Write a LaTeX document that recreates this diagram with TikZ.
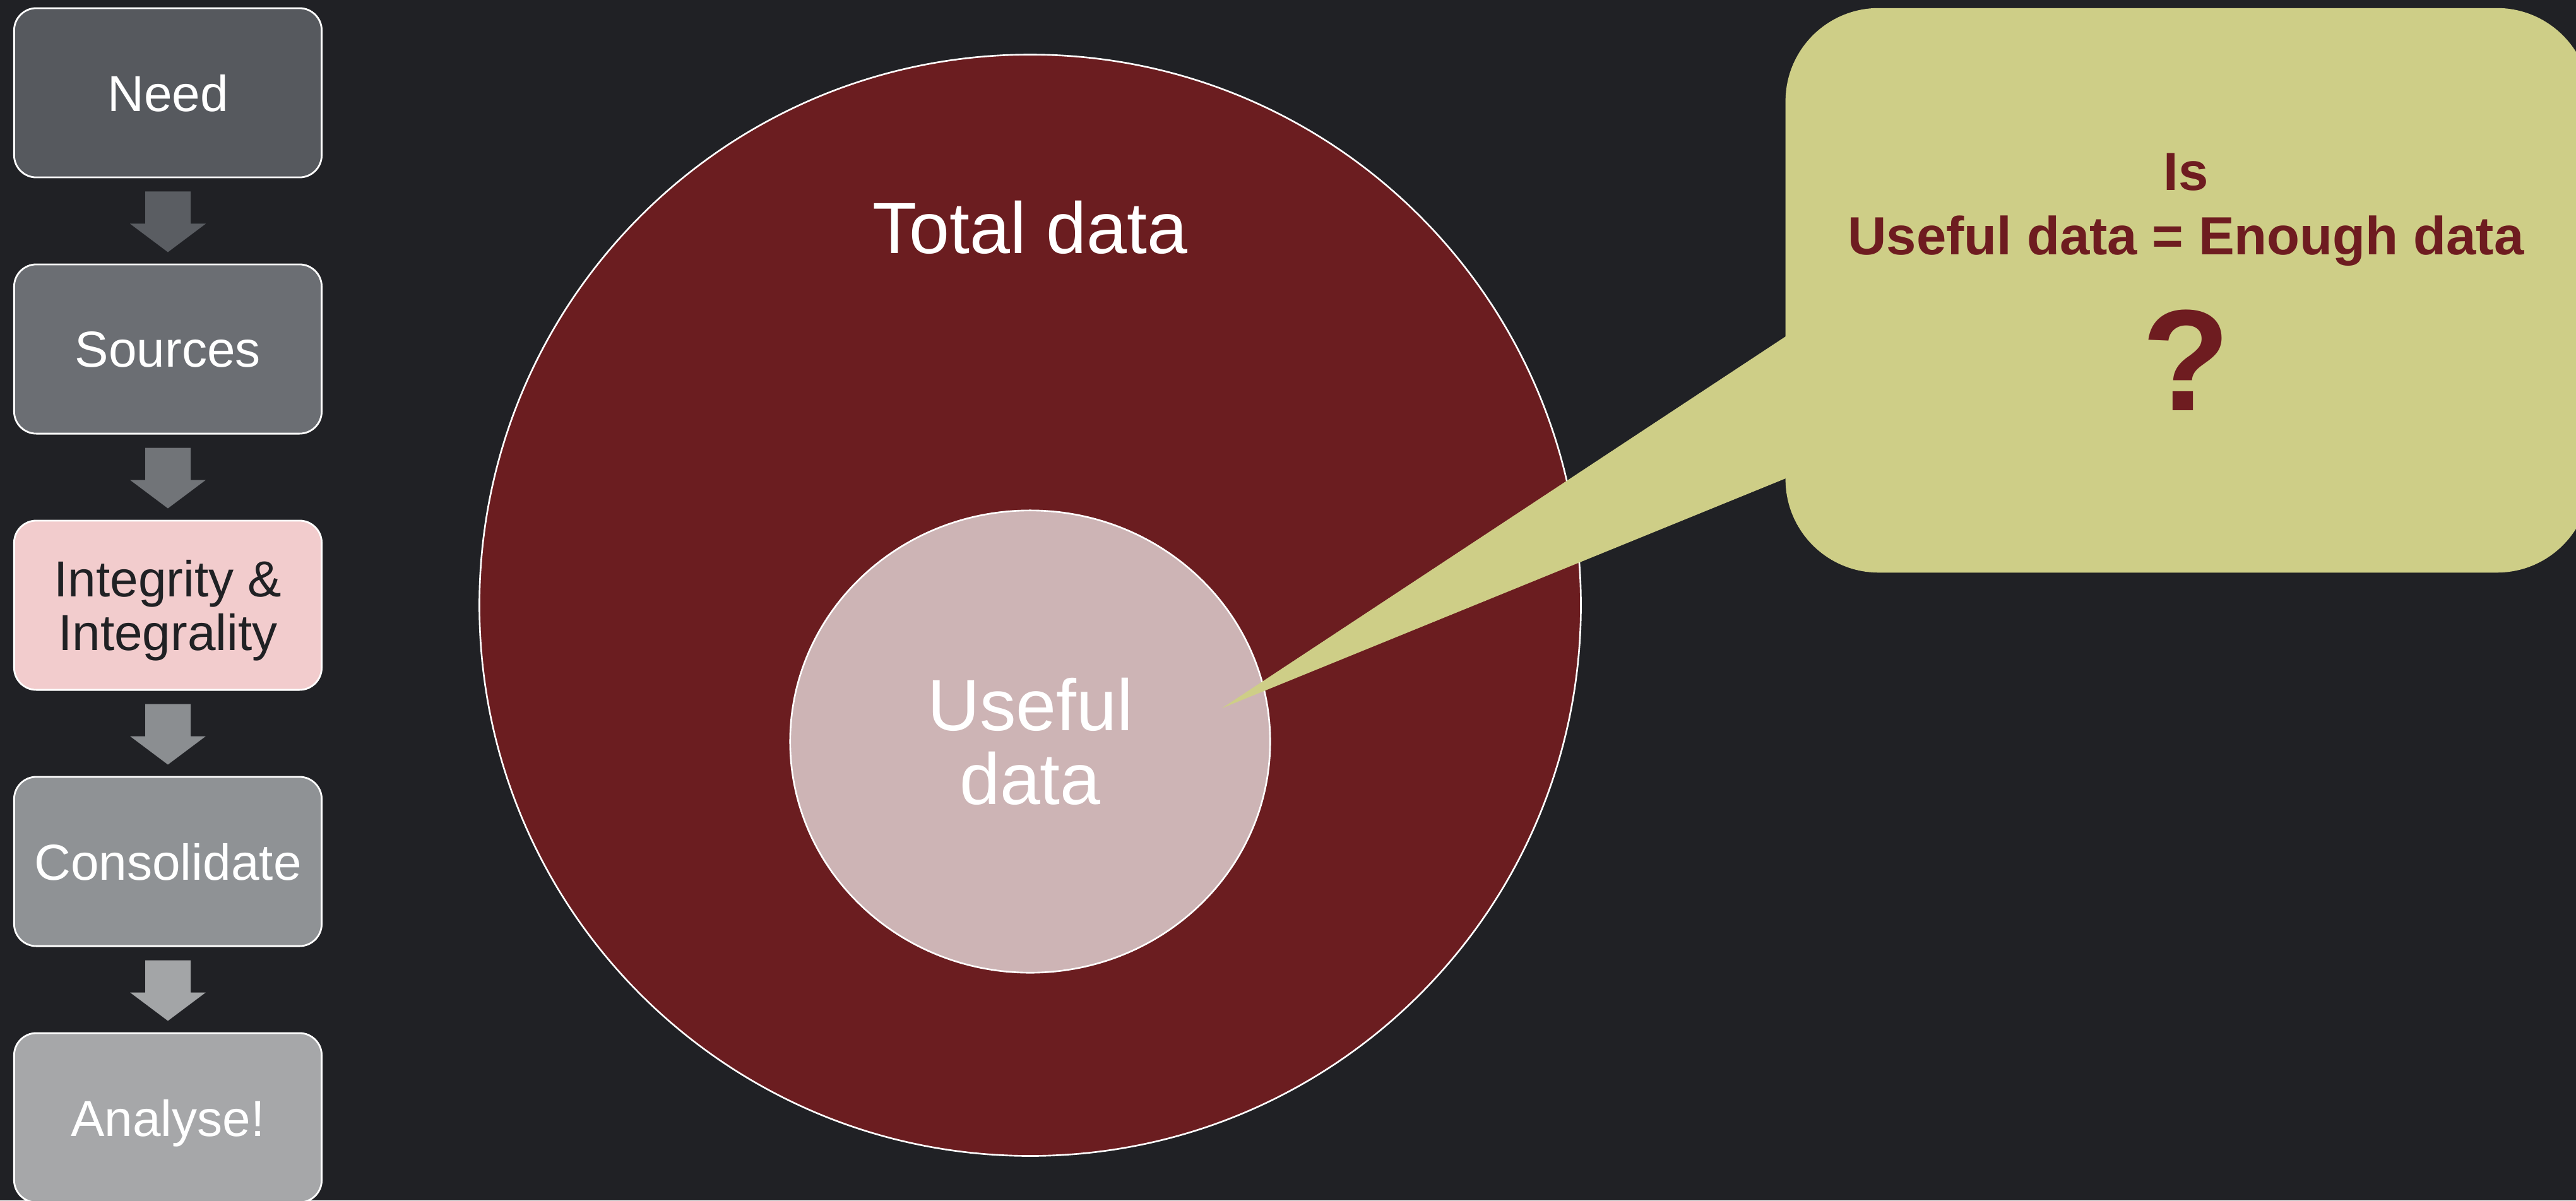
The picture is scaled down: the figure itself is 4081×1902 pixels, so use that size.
\documentclass[tikz,border=0pt]{standalone}
\usepackage{fontspec}
\setmainfont{Liberation Sans}
\usetikzlibrary{calc}
\usetikzlibrary{shapes.geometric}

\definecolor{bgdark}{HTML}{202125}
\definecolor{totalred}{HTML}{6B1D20}
\definecolor{usefulpink}{HTML}{CDB4B5}
\definecolor{bubblefill}{HTML}{CECE87}
\definecolor{wine}{HTML}{6E1C20}
\definecolor{inkdark}{HTML}{202124}
\definecolor{stepA}{HTML}{56595E}
\definecolor{stepB}{HTML}{6B6E73}
\definecolor{stepC}{HTML}{F2CCCD}
\definecolor{stepD}{HTML}{8F9295}
\definecolor{stepE}{HTML}{A6A7A9}
\definecolor{arrowA}{HTML}{5A5D62}
\definecolor{arrowB}{HTML}{717478}
\definecolor{arrowC}{HTML}{8B8E91}
\definecolor{arrowD}{HTML}{A3A5A7}

\tikzset{
  stage/.style={shape=rectangle, rounded corners=10pt, draw=white, line width=0.8pt,
    minimum width=4.87cm, minimum height=2.68cm, inner sep=0pt, align=center, text depth=0pt,
    text=white, font=\fontsize{22.8}{24.2}\selectfont},
  disc/.style={draw=white, line width=0.75pt, inner sep=0pt},
}

\begin{document}
\begin{tikzpicture}[x=0.01cm, y=-0.01cm]
\useasboundingbox (0,0) rectangle (4081,1902);
\clip (0,0) rectangle (4081,1902);
\fill[bgdark] (0,0) rectangle (4081,1902);

% the two data sets
\node[disc, shape=circle, fill=totalred, minimum size=17.44cm] (total) at (1632,959) {};
\node[anchor=base, text=white, font=\fontsize{32.7}{33.3}\selectfont] (totallbl) at (1632,401) {Total data};
\node[disc, shape=ellipse, fill=usefulpink, minimum width=7.6cm, minimum height=7.32cm,
  align=center, text=white, font=\fontsize{32.7}{33.3}\selectfont] (useful) at (1632,1175) {Useful\\data};

% speech bubble
\coordinate (tip) at (1936,1122);
\coordinate (tailA) at (2829,533);
\coordinate (tailB) at (2829,758);
\fill[bubblefill] (tip) -- ($(tip)!1.1!(tailA)$) -- ($(tip)!1.1!(tailB)$) -- cycle;
\node[shape=rectangle, rounded corners=42pt, fill=bubblefill, minimum width=12.74cm, minimum height=8.94cm] (bubble) at (3466,460) {};
\node[align=center, text=wine, font=\bfseries\fontsize{24.2}{29}\selectfont] (question) at (3463,332) {Is\\Useful data = Enough data};
\node[anchor=base, text=wine, font=\bfseries\fontsize{65}{70}\selectfont] (qmark) at (3463,650) {?};

% process steps
\node[stage, fill=stepA] (need) at (266,147) {Need};
\node[stage, fill=stepB] (sources) at (266,553) {Sources};
\node[stage, fill=stepC, text=inkdark] (integ) at (266,959) {Integrity \&\\Integrality};
\node[stage, fill=stepD] (consol) at (266,1365) {Consolidate};
\node[stage, fill=stepE] (analyse) at (266,1771) {Analyse!};

\foreach \a/\b/\c in {need/sources/arrowA, sources/integ/arrowB, integ/consol/arrowC, consol/analyse/arrowD}
  \fill[\c] ($(\a.south)+(-36,21)$) -- ++(72,0) -- ++(0,51) -- ++(24,0)
    -- ($(\b.north)+(0,-18)$) -- ($(\a.south)+(-60,72)$) -- ++(24,0) -- cycle;
\end{tikzpicture}
\end{document}
